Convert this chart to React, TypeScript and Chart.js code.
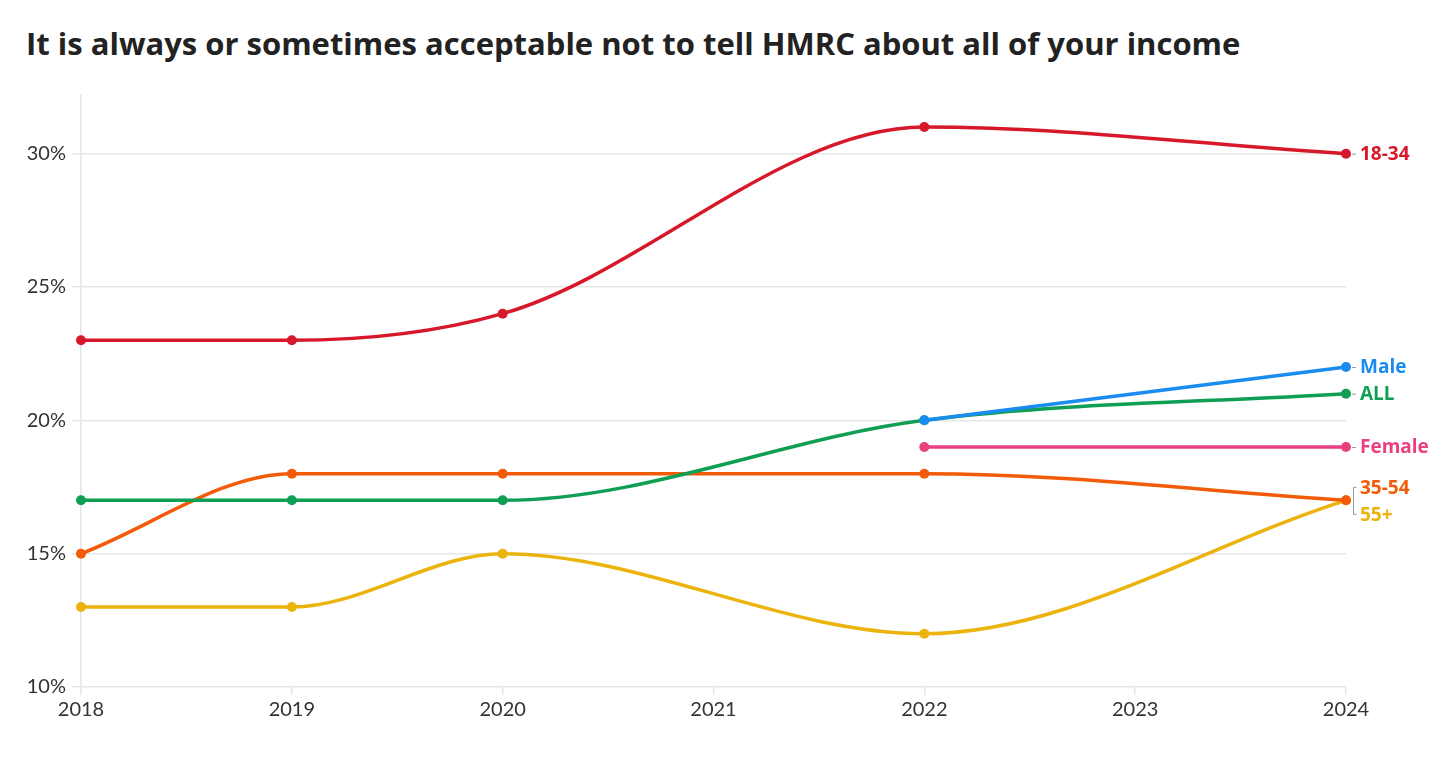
import React, { useEffect, useRef } from "react";
import { Chart, registerables } from "chart.js";

Chart.register(...registerables);

const TITLE = "It is always or sometimes acceptable not to tell HMRC about all of your income";

const years18_34 = [2018, 2019, 2020, 2022, 2024];
const values18_34 = [23, 23, 24, 31, 30];

const yearsAll = [2018, 2019, 2020, 2022, 2024];
const valuesAll = [17, 17, 17, 20, 21];

const yearsMale = [2022, 2024];
const valuesMale = [20, 22];

const yearsFemale = [2022, 2024];
const valuesFemale = [19, 19];

const years35_54 = [2018, 2019, 2020, 2022, 2024];
const values35_54 = [15, 18, 18, 18, 17];

const years55 = [2018, 2019, 2020, 2022, 2024];
const values55 = [13, 13, 15, 12, 17];

const seriesNames = ["Male", "18-34", "ALL", "Female", "35-54", "55+"];
const seriesColors = ["#1a8cf0", "#d7182a", "#0e9f55", "#ea4080", "#f25c08", "#ebb30c"];

const yTicks = [10, 15, 20, 25, 30];

function pts(xs: number[], ys: number[]) {
  return xs.map((x, i) => ({ x, y: ys[i] }));
}

const endLabels = {
  id: "endLabels",
  afterDatasetsDraw(chart: any) {
    const ctx = chart.ctx;
    ctx.save();
    ctx.font = "bold 19px 'Open Sans'";
    ctx.textBaseline = "middle";
    ctx.textAlign = "left";
    chart.data.datasets.forEach((ds: any, i: number) => {
      const meta = chart.getDatasetMeta(i);
      const el = meta.data[meta.data.length - 1];
      if (!el) return;
      const name = ds.label;
      let ly = el.y;
      if (name === "35-54") ly = el.y - 13;
      if (name === "55+") ly = el.y + 14;
      if (name !== "35-54" && name !== "55+") {
        ctx.strokeStyle = "#999";
        ctx.lineWidth = 1;
        ctx.beginPath();
        ctx.moveTo(el.x + 6, el.y + 0.5);
        ctx.lineTo(el.x + 10, el.y + 0.5);
        ctx.stroke();
      }
      ctx.fillStyle = ds.borderColor;
      ctx.fillText(name, el.x + 14, ly + 1);
    });
    const idx = chart.data.datasets.findIndex((d: any) => d.label === "35-54");
    if (idx >= 0) {
      const meta = chart.getDatasetMeta(idx);
      const el = meta.data[meta.data.length - 1];
      const bx = el.x + 7.5;
      ctx.strokeStyle = "#999";
      ctx.lineWidth = 1;
      ctx.beginPath();
      ctx.moveTo(bx + 3, el.y - 13);
      ctx.lineTo(bx, el.y - 13);
      ctx.lineTo(bx, el.y + 14);
      ctx.lineTo(bx + 3, el.y + 14);
      ctx.stroke();
    }
    ctx.restore();
  },
};

export default function App() {
  const ref = useRef<HTMLCanvasElement | null>(null);
  useEffect(() => {
    if (!ref.current) return;
    const xs = [yearsMale, years18_34, yearsAll, yearsFemale, years35_54, years55];
    const vs = [valuesMale, values18_34, valuesAll, valuesFemale, values35_54, values55];
    const chart = new Chart(ref.current, {
      type: "line",
      data: {
        datasets: seriesNames.map((name, i) => ({
          label: name,
          data: pts(xs[i], vs[i]),
          borderColor: seriesColors[i],
          backgroundColor: seriesColors[i],
          borderWidth: 3.5,
          pointRadius: 5,
          pointBorderWidth: 0,
          pointHoverRadius: 5,
          cubicInterpolationMode: "monotone" as const,
          fill: false,
          clip: false as any,
        })),
      },
      options: {
        animation: false,
        responsive: false,
        maintainAspectRatio: false,
        layout: { padding: { top: 95, right: 110, left: 0, bottom: 0 } },
        plugins: {
          legend: { display: false },
          title: { display: false },
          tooltip: { enabled: false },
        },
        scales: {
          x: {
            type: "linear",
            min: 2018,
            max: 2024,
            afterFit: (s: any) => {
              s.height = 90;
            },
            ticks: {
              stepSize: 1,
              color: "#333",
              padding: 3,
              font: { family: "Lato", size: 20 },
              callback: (v: any) => String(v),
            },
            grid: {
              display: true,
              drawOnChartArea: false,
              drawTicks: true,
              tickLength: 8,
              color: "#e4e4e4",
              lineWidth: 1.5,
            },
            border: { display: false },
          },
          y: {
            type: "linear",
            min: 10,
            max: 32.2,
            afterFit: (s: any) => {
              s.width = 81;
            },
            afterBuildTicks: (s: any) => {
              s.ticks = yTicks.map((v) => ({ value: v }));
            },
            ticks: {
              color: "#333",
              padding: 6,
              font: { family: "Lato", size: 20 },
              callback: (v: any) => v + "%",
            },
            grid: {
              color: "#e6e6e6",
              lineWidth: 1.5,
              tickLength: 9,
            },
            border: { display: true, color: "#e6e6e6", width: 1.5 },
          },
        },
      },
      plugins: [endLabels],
    });
    return () => chart.destroy();
  }, []);

  return (
    <div style={{ position: "fixed", left: 0, top: 0, width: 1456, height: 777, background: "#fff" }}>
      <div
        style={{
          position: "absolute",
          left: 26,
          top: 22,
          fontFamily: "'Open Sans', sans-serif",
          fontWeight: 700,
          fontSize: 31,
          color: "#222",
          whiteSpace: "nowrap",
          letterSpacing: 0,
        }}
      >
        {TITLE}
      </div>
      <canvas ref={ref} width={1456} height={777} style={{ position: "absolute", left: 0, top: 0 }} />
    </div>
  );
}
